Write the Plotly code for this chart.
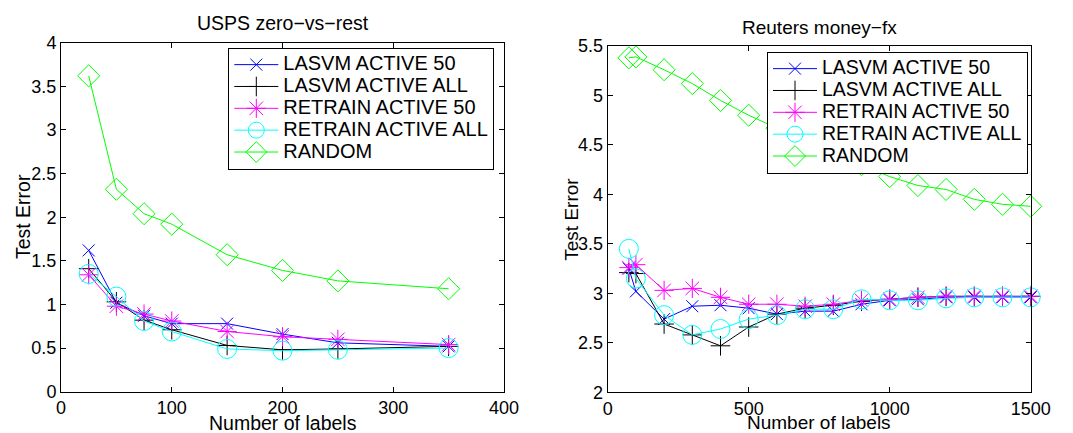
import plotly.graph_objects as go

# ---------------- data ----------------
usps_x = [25, 50, 75, 100, 150, 200, 250, 350]
usps_lasvm50 = [1.62, 1.02, 0.87, 0.78, 0.78, 0.66, 0.56, 0.52]
usps_lasvmall = [1.41, 1.03, 0.82, 0.71, 0.53, 0.48, 0.49, 0.52]
usps_retrain50 = [1.34, 0.98, 0.89, 0.81, 0.69, 0.63, 0.60, 0.54]
usps_retrainall = [1.35, 1.09, 0.81, 0.69, 0.49, 0.47, 0.48, 0.50]
usps_random = [3.62, 2.32, 2.04, 1.92, 1.57, 1.39, 1.27, 1.18]

reu_x = [75, 100, 200, 300, 400, 500, 600, 700, 800, 900, 1000, 1100, 1200, 1300, 1400, 1500]
reu_lasvm50 = [3.25, 3.02, 2.74, 2.87, 2.88, 2.85, 2.79, 2.82, 2.82, 2.89, 2.93, 2.94, 2.96, 2.96, 2.96, 2.96]
reu_lasvmall = [3.21, 3.20, 2.69, 2.58, 2.47, 2.66, 2.79, 2.85, 2.88, 2.92, 2.94, 2.96, 2.97, 2.97, 2.97, 2.97]
reu_retrain50 = [3.26, 3.29, 3.03, 3.05, 2.96, 2.89, 2.89, 2.87, 2.89, 2.93, 2.94, 2.96, 2.97, 2.97, 2.97, 2.97]
reu_retrainall = [3.45, 3.15, 2.78, 2.58, 2.64, 2.74, 2.78, 2.84, 2.84, 2.94, 2.93, 2.93, 2.95, 2.96, 2.96, 2.96]
reu_random = [5.38, 5.39, 5.26, 5.12, 4.95, 4.80, 4.67, 4.55, 4.42, 4.30, 4.18, 4.09, 4.05, 3.95, 3.90, 3.88]

names = ["LASVM ACTIVE 50", "LASVM ACTIVE ALL", "RETRAIN ACTIVE 50", "RETRAIN ACTIVE ALL", "RANDOM"]
colors = ["#0000ff", "#000000", "#ff00ff", "#00ffff", "#00ff00"]
symbols = ["x-thin-open", "cross-thin-open", "asterisk-open", "circle-open", "diamond-open"]
sizes = [12, 14, 16, 19, 17]

FONT = "Liberation Sans, Arial, Helvetica, sans-serif"
W, H = 1073, 433


def px(x):
    return x / W


def py(y):
    return 1 - y / H


fig = go.Figure()

panels = [
    (usps_x, [usps_lasvm50, usps_lasvmall, usps_retrain50, usps_retrainall, usps_random], "x", "y", "legend", 20),
    (reu_x, [reu_lasvm50, reu_lasvmall, reu_retrain50, reu_retrainall, reu_random], "x2", "y2", "legend2", 19.5),
]
for xs, series, xa, ya, lg, lfs in panels:
    for name, ys, c, s, sz in zip(names, series, colors, symbols, sizes):
        fig.add_trace(go.Scatter(
            x=xs, y=ys, mode="lines+markers",
            name='<span style="font-size:%gpx">%s</span>' % (lfs, name),
            xaxis=xa, yaxis=ya, legend=lg, cliponaxis=False,
            line=dict(color=c, width=1),
            marker=dict(symbol=s, size=sz, color=c, line=dict(color=c, width=1)),
        ))

axis_common = dict(
    showline=True, linecolor="black", linewidth=1, mirror="ticks",
    ticks="inside", ticklen=5, tickcolor="black", showgrid=False, zeroline=False,
    tickfont=dict(family=FONT, size=18, color="black"),
)

legend_common = dict(
    xanchor="left", yanchor="top",
    bgcolor="white", bordercolor="black", borderwidth=1,
    font=dict(family=FONT, size=14.5, color="black"), itemwidth=44,
    tracegroupgap=0,
)

fig.update_layout(
    width=W, height=H,
    margin=dict(l=0, r=0, t=0, b=0, autoexpand=False),
    paper_bgcolor="white", plot_bgcolor="white",
    font=dict(family=FONT, size=18, color="black"),
    showlegend=True,
    xaxis=dict(domain=[px(61), px(504)], range=[0, 400], tickvals=[0, 100, 200, 300, 400], anchor="y", **axis_common),
    yaxis=dict(domain=[py(391.7), py(42.7)], range=[0, 4],
               tickvals=[0, 0.5, 1, 1.5, 2, 2.5, 3, 3.5, 4], anchor="x", **axis_common),
    xaxis2=dict(domain=[px(607.7), px(1030.7)], range=[0, 1500], tickvals=[0, 500, 1000, 1500], anchor="y2", **axis_common),
    yaxis2=dict(domain=[py(392.3), py(46)], range=[2, 5.5],
                tickvals=[2, 2.5, 3, 3.5, 4, 4.5, 5, 5.5], anchor="x2", **axis_common),
    legend=dict(x=px(228.3), y=py(47.7), **legend_common),
    legend2=dict(x=px(767), y=py(51.7), **legend_common),
    annotations=[
        dict(text="USPS zero\u2212vs\u2212rest", x=px(283), y=py(23.4), xref="paper", yref="paper",
             showarrow=False, font=dict(size=19.5), xanchor="center", yanchor="middle"),
        dict(text="Reuters money\u2212fx", x=px(819.5), y=py(27.4), xref="paper", yref="paper",
             showarrow=False, font=dict(size=19), xanchor="center", yanchor="middle"),
        dict(text="Number of labels", x=px(283), y=py(422.5), xref="paper", yref="paper",
             showarrow=False, font=dict(size=19.5), xanchor="center", yanchor="middle"),
        dict(text="Number of labels", x=px(819), y=py(422.5), xref="paper", yref="paper",
             showarrow=False, font=dict(size=19), xanchor="center", yanchor="middle"),
        dict(text="Test Error", x=px(22.4), y=py(216.7), xref="paper", yref="paper", textangle=-90,
             showarrow=False, font=dict(size=19.5), xanchor="center", yanchor="middle"),
        dict(text="Test Error", x=px(570.7), y=py(219), xref="paper", yref="paper", textangle=-90,
             showarrow=False, font=dict(size=19), xanchor="center", yanchor="middle"),
    ],
)

fig.write_html(
    "out.html",
    config={"displayModeBar": False},
    post_script="document.body.style.margin='0';document.body.style.overflow='hidden';",
)
